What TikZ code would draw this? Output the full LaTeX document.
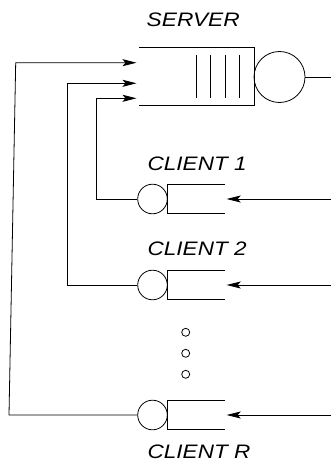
\documentclass[tikz,border=0pt]{standalone}
\usepackage{fontspec}
\usepackage{graphicx}
\setmainfont{Liberation Sans}
\usetikzlibrary{arrows.meta}
\tikzset{
  ln/.style={line width=0.8pt, draw=black},
  arr/.style={ln, -{Stealth[length=14pt,width=7pt,inset=3pt]}},
  lbl/.style={anchor=west, inner sep=0pt, font=\fontsize{19.5}{21}\selectfont\itshape},
  bigserver/.style={circle, ln, minimum size=51pt, inner sep=0pt},
  cli/.style={circle, ln, minimum size=29.6pt, inner sep=0pt},
  dotc/.style={circle, ln, minimum size=8pt, inner sep=0pt},
}
\begin{document}
\begin{tikzpicture}[x=1pt,y=-1pt]
\useasboundingbox (0,0) rectangle (331,468);
% labels
\node[lbl] (lserver) at (146.5,20) {\scalebox{1.165}[1]{SERVER}};
\node[lbl] (lc1) at (147.5,163.7) {\scalebox{1.155}[1]{CLIENT 1}};
\node[lbl] (lc2) at (147.5,249) {\scalebox{1.155}[1]{CLIENT 2}};
\node[lbl] (lcr) at (147.5,452) {\scalebox{1.155}[1]{CLIENT R}};
% server queue
\draw[ln] (139,47) -- (254,47) -- (254,105) -- (139,105);
\foreach \xx in {196,210.7,225,239.3} \draw[ln] (\xx,55) -- (\xx,98.3);
\node[bigserver] (srv) at (279.5,77) {};
\coordinate (sout) at (331,77);
\draw[ln] (srv.east) -- (sout);
% server inputs
\coordinate (in1) at (136.5,62.7);
\coordinate (in2) at (136.5,83.3);
\coordinate (in3) at (136.5,98.3);
% clients
\foreach \nm/\yy in {c1/199,c2/285,cr/415}{
  \node[cli] (\nm) at (152.5,\yy) {};
  \draw[ln] (225,\yy-14.5) -- (167.3,\yy-14.5) -- (167.3,\yy+14.5) -- (225,\yy+14.5);
  \coordinate (\nm src) at (331,\yy);
  \coordinate (\nm tip) at (226.7,\yy);
  \draw[arr] (\nm src) -- (\nm tip);
}
% feedback paths
\coordinate (k3) at (96,199);
\coordinate (k3t) at (96,98.3);
\draw[arr] (c1.west) -- (k3) -- (k3t) -- (in3);
\coordinate (k2) at (67,285);
\coordinate (k2t) at (67,83.3);
\draw[arr] (c2.west) -- (k2) -- (k2t) -- (in2);
\coordinate (k1) at (9,415);
\coordinate (k1t) at (15.7,62.7);
\draw[arr] (cr.west) -- (k1) -- (k1t) -- (in1);
% dots
\node[dotc] (d1) at (185.7,332.3) {};
\node[dotc] (d2) at (185.7,353.3) {};
\node[dotc] (d3) at (185.7,374.3) {};
\end{tikzpicture}
\end{document}
